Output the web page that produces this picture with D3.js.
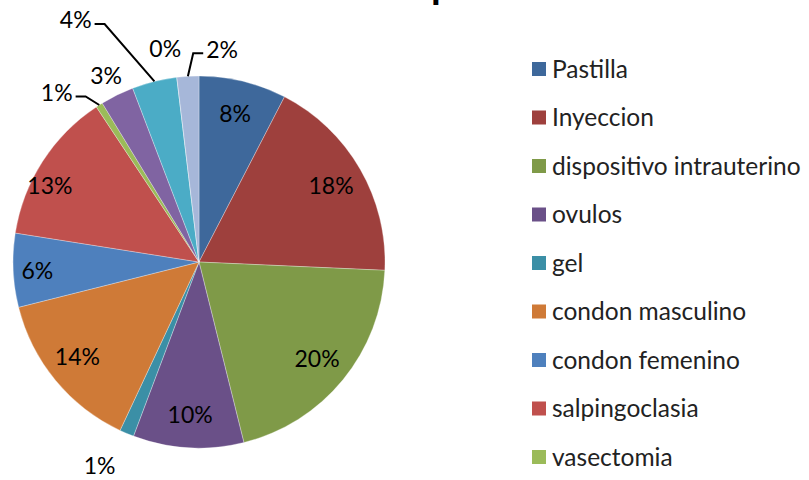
<!DOCTYPE html>
<html>
<head>
<meta charset="utf-8">
<script src="https://cdn.jsdelivr.net/npm/d3@7"></script>
<style>
  html, body { margin: 0; padding: 0; background: #fff; }
  svg { display: block; }
</style>
</head>
<body>
<svg id="chart" width="809" height="480"></svg>
<script>
// ---- data ----
const title = "Métodos de planificación familiar";
const categories = ["Pastilla", "Inyeccion", "dispositivo intrauterino", "ovulos", "gel",
  "condon masculino", "condon femenino", "salpingoclasia", "vasectomia",
  "otro 1", "otro 2", "otro 3", "otro 4"];
const values = [7.6, 18.1, 20.4, 9.6, 1.25, 14.1, 6.4, 13.2, 0.6, 2.9, 3.9, 0, 1.9];
const colors = ["#3E689B", "#9E403D", "#7F9A48", "#6A5088", "#3B8FA6", "#CF7A37",
  "#4E80BD", "#C0504D", "#9BBB59", "#8064A2", "#4BACC6", "#F79646", "#A6B7D9"];
const legendCount = 9; // only the first nine entries fit in the legend

// ---- layout (kept apart from data) ----
const W = 809, H = 480;
const cx = 199, cy = 262, R = 186;
const insideFactor = 0.82;
const labelOverrides = {
  5: { r: 0.83, a: 232 },
  6: { r: 0.87, a: 267 },
  7: { r: 0.90, a: 297 },
  4: { r: 1.22, a: 206 },
  8: { r: 1.19, a: 320, leader: true },
  9: { r: 1.12, a: 333.5 },
  10: { r: 1.46, a: 333, leader: true },
  11: { r: 1.16, a: 351 },
  12: { r: 1.15, a: 6.2, leader: true }
};

const svg = d3.select("#chart");
const font = "Lato, 'Noto Sans', sans-serif";

// title (cropped at the top in the reference)
svg.append("text")
  .attr("x", 211).attr("y", -1)
  .attr("textLength", 583).attr("lengthAdjust", "spacingAndGlyphs")
  .attr("font-family", font).attr("font-weight", "bold").attr("font-size", 34)
  .attr("fill", "#000")
  .text(title);

const total = d3.sum(values);
const pie = d3.pie().sort(null).value(d => d)(values);
const arc = d3.arc().innerRadius(0).outerRadius(R);

const g = svg.append("g").attr("transform", `translate(${cx},${cy})`);

g.selectAll("path.slice").data(pie).join("path")
  .attr("class", "slice")
  .attr("d", arc)
  .attr("fill", (d, i) => colors[i])
  .attr("stroke", "rgba(255,255,255,0.5)")
  .attr("stroke-width", 0.6);

const rad = deg => deg * Math.PI / 180;
const polar = (r, aDeg) => [r * Math.sin(rad(aDeg)), -r * Math.cos(rad(aDeg))];

const labelG = g.append("g");
pie.forEach((d, i) => {
  const pct = Math.round(values[i] / total * 100) + "%";
  const mid = (d.startAngle + d.endAngle) / 2 * 180 / Math.PI;
  const o = labelOverrides[i] || {};
  const rf = o.r !== undefined ? o.r : insideFactor;
  const a = o.a !== undefined ? o.a : mid;
  const [lx, ly] = polar(R * rf, a);
  const t = labelG.append("text")
    .attr("x", lx).attr("y", ly)
    .attr("text-anchor", "middle")
    .attr("dy", "0.36em")
    .attr("font-family", font).attr("font-size", 23)
    .attr("fill", "#000")
    .text(pct);
  if (o.leader) {
    const w = t.node().getComputedTextLength();
    const [px, py] = polar(R, mid);
    const sx = lx < px ? lx + w / 2 + 3 : lx - w / 2 - 3;
    const hx = lx < px ? sx + 10 : sx - 10;
    const sy = ly + 4;
    labelG.append("path")
      .attr("d", `M${sx},${sy}L${hx},${sy}L${px},${py}`)
      .attr("fill", "none").attr("stroke", "#000").attr("stroke-width", 2);
  }
});

// legend
const legend = svg.append("g").attr("transform", "translate(532,69)");
const rowH = 48.5;
categories.slice(0, legendCount).forEach((c, i) => {
  const row = legend.append("g").attr("transform", `translate(0,${i * rowH})`);
  row.append("rect").attr("x", 0).attr("y", -7).attr("width", 14).attr("height", 14)
    .attr("fill", colors[i]);
  row.append("text").attr("x", 20).attr("y", 0).attr("dy", "0.36em")
    .attr("font-family", font).attr("font-size", 24.5).attr("fill", "#222")
    .text(c);
});
</script>
</body>
</html>
